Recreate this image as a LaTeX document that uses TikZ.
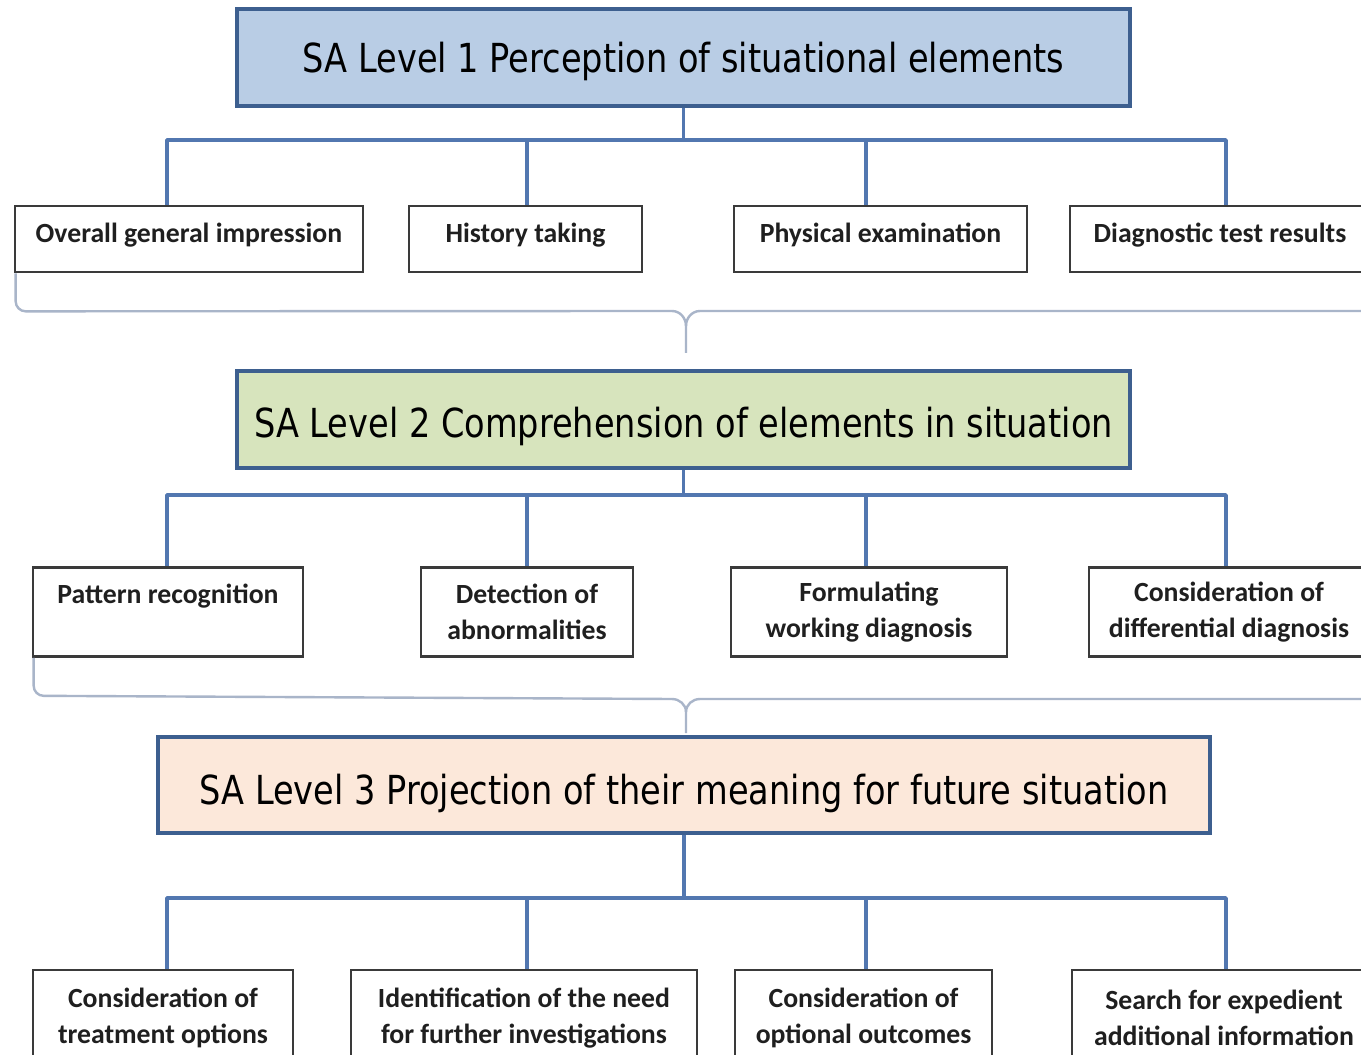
\documentclass[tikz,border=0pt]{standalone}
\usepackage{fontspec}
\newfontfamily\headfont[FakeStretch=0.84]{DejaVu Sans}
\newfontfamily\elemfont{Carlito}
\definecolor{hdblue}{HTML}{B9CDE5}
\definecolor{hdgreen}{HTML}{D7E4BD}
\definecolor{hdpeach}{HTML}{FCE8DA}
\definecolor{hdedge}{HTML}{3D5F8F}
\definecolor{connblue}{HTML}{5277B0}
\definecolor{grpgray}{HTML}{A9B5C9}
\definecolor{boxgray}{HTML}{3A3A3A}
\begin{document}
\begin{tikzpicture}[x=0.75pt,y=-0.75pt,
  salevel/.style={draw=hdedge, line width=2.6pt, inner sep=0pt,
    text height=22pt, text depth=0pt,
    font=\headfont\fontsize{30}{36}\selectfont},
  elem/.style={draw=boxgray, line width=2pt, fill=white, inner sep=0pt,
    align=center, text=black!88, font=\elemfont\bfseries\fontsize{20.8}{27}\selectfont},
  conn/.style={draw=connblue, line width=2.6pt, line join=round},
  grp/.style={draw=grpgray, line width=1.8pt}]
  \clip (0,0) rectangle (1361,1055);
  \fill[white] (0,0) rectangle (1361,1055);

  % level boxes
  \node[salevel, fill=hdblue, minimum width=893*0.75pt, minimum height=97*0.75pt]
    (L1) at (683.5,57.5) {SA Level 1 Perception of situational elements};
  \node[salevel, fill=hdgreen, text height=26.5pt, minimum width=893*0.75pt,
    minimum height=97*0.75pt]
    (L2) at (683.5,419.5) {SA Level 2 Comprehension of elements in situation};
  \node[salevel, fill=hdpeach, text height=29pt, minimum width=1052*0.75pt,
    minimum height=96*0.75pt]
    (L3) at (684,785) {SA Level 3 Projection of their meaning for future situation};

  % elements of each level
  \foreach \nm/\cx/\bw/\txt in {o1/189/348/{Overall general impression},
            o2/525.5/233/{History taking},
            o3/880.5/293/{Physical examination},
            o4/1220/300/{Diagnostic test results}}
    \node[elem, text height=12pt, text depth=6pt,
      minimum width=\bw*0.75pt, minimum height=66*0.75pt] (\nm) at (\cx,239) {\txt};
  \node[elem, text height=12pt, text depth=24pt, minimum width=270*0.75pt,
    minimum height=89*0.75pt] (p1) at (168,612) {Pattern recognition};
  \foreach \nm/\cx/\bw/\txt in {p2/527/212/{Detection of\\abnormalities},
            p3/869/276/{Formulating\\working diagnosis},
            p4/1229/280/{Consideration of\\differential diagnosis}}
    \node[elem, minimum width=\bw*0.75pt, minimum height=89*0.75pt] (\nm) at (\cx,612) {\txt};
  \foreach \nm/\cx/\bw/\txt in {q1/163/260/{Consideration of\\treatment options},
            q2/524/346/{Identification of the need\\for further investigations},
            q3/863.5/257/{Consideration of\\optional outcomes},
            q4/1224/304/{Search for expedient\\additional information}}
    \node[elem, minimum width=\bw*0.75pt, minimum height=96*0.75pt] (\nm) at (\cx,1018) {\txt};

  % drop points of the buses
  \foreach \r/\by in {a/140,b/495,c/898}{
    \coordinate (\r1) at (167,\by);
    \coordinate (\r2) at (527,\by);
    \coordinate (\r3) at (866,\by);
    \coordinate (\r4) at (1226,\by);
  }

  % connectors
  \draw[conn] (L1.south) -- (L1.south |- a1);
  \draw[conn] (a1 |- o1.north) -- (a1) -- (a4) -- (a4 |- o4.north);
  \draw[conn] (a2) -- (a2 |- o2.north);
  \draw[conn] (a3) -- (a3 |- o3.north);

  \draw[conn] (L2.south) -- (L2.south |- b1);
  \draw[conn] (b1 |- p1.north) -- (b1) -- (b4) -- (b4 |- p4.north);
  \draw[conn] (b2) -- (b2 |- p2.north);
  \draw[conn] (b3) -- (b3 |- p3.north);

  \draw[conn] (L3.south) -- (L3.south |- c1);
  \draw[conn] (c1 |- q1.north) -- (c1) -- (c4) -- (c4 |- q4.north);
  \draw[conn] (c2) -- (c2 |- q2.north);
  \draw[conn] (c3) -- (c3 |- q3.north);

  % grouping braces
  \draw[grp] ([xshift=1.5pt]o1.south west) -- ++(0,28) to[out=-90,in=180] ++(10,10)
    -- (672,311) to[out=0,in=90] (686,326) -- (686,353);
  \draw[grp] (686,326) to[out=90,in=180] (700,311) -- (1375,311);
  \draw[grp] ([xshift=1.5pt]p1.south west) -- ++(0,28) to[out=-90,in=180] ++(10,10)
    -- (672,699) to[out=0,in=90] (686,712) -- (686,733);
  \draw[grp] (686,712) to[out=90,in=180] (700,699) -- (1375,699);
\end{tikzpicture}
\end{document}
